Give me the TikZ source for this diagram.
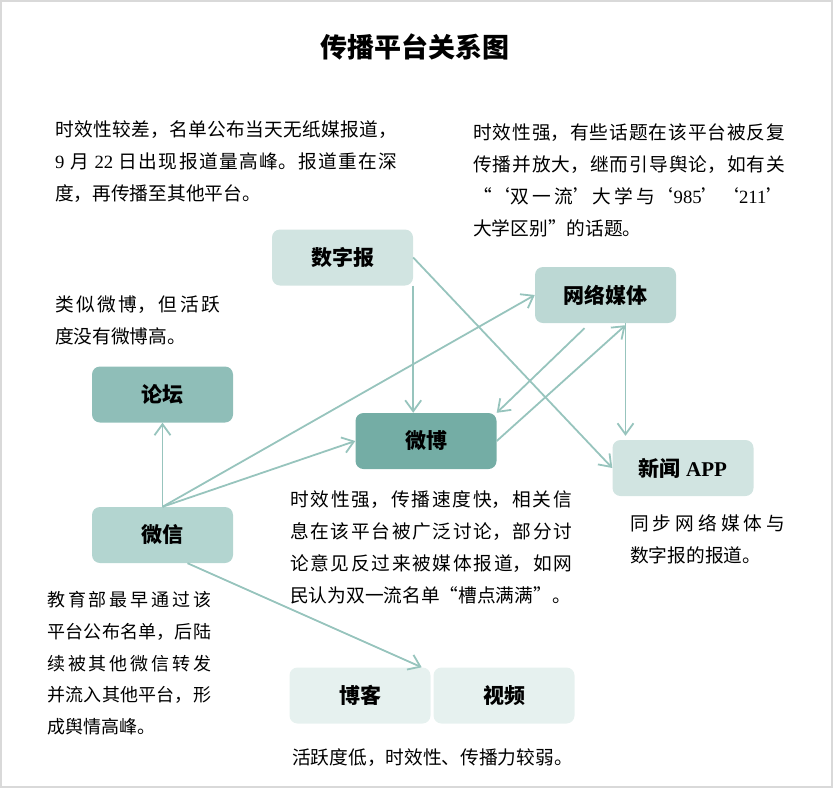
\documentclass[tikz,border=0pt]{standalone}
\usepackage{fontspec}
\setmainfont{Noto Sans CJK SC}
\newfontfamily\latin{Liberation Serif}
\XeTeXlinebreaklocale "zh"
\XeTeXlinebreakskip=0pt plus 2pt
\usetikzlibrary{arrows.meta}
\definecolor{framec}{HTML}{D9D9D9}
\definecolor{linkc}{HTML}{97C4BD}
\definecolor{paperc}{HTML}{D1E4E1}
\definecolor{webc}{HTML}{BCD8D4}
\definecolor{weiboc}{HTML}{74ADA5}
\definecolor{forumc}{HTML}{8FBEB8}
\definecolor{wechatc}{HTML}{B3D5D0}
\definecolor{blogc}{HTML}{E6F1EF}

\begin{document}
\begin{tikzpicture}[x=1pt, y=-1pt, every node/.style={inner sep=0pt}]
			\tikzstyle{platform}=[rounded corners=8pt,minimum width=141pt,minimum height=56pt,font=\bfseries\fontsize{21}{25}\selectfont]
			\tikzstyle{note}=[anchor=north west,align=justify,font=\fontsize{18.7}{31.8}\selectfont]
			\tikzstyle{link}=[-{Straight Barb[length=11pt,width=16pt]},draw=linkc,line width=1.8pt]
			\useasboundingbox (0,0) rectangle (833,788);
			\draw[framec,line width=2pt] (1,1) rectangle (832,787);
			\node[font=\bfseries\fontsize{27}{30}\selectfont](title) at (415,47){传播平台关系图};
			% platforms
			\node[platform,fill=paperc](paper) at (342.5,257.5){数字报};
			\node[platform,fill=webc](web) at (605.5,295){网络媒体};
			\node[platform,fill=weiboc](weibo) at (426,441){微博};
			\node[platform,fill=paperc](news) at (683,468){新闻{\latin\ APP}};
			\node[platform,fill=forumc](forum) at (162.5,394.5){论坛};
			\node[platform,fill=wechatc](wechat) at (162.5,535){微信};
			\node[platform,fill=blogc](blog) at (360,695.5){博客};
			\node[platform,fill=blogc](video) at (504,695.5){视频};
			% notes
			\node[note,text width=342pt](paperNote) at (55,120.6){时效性较差，名单公布当天无纸媒报道，\linebreak
				{\latin 9} 月 {\latin 22} 日出现报道量高峰。报道重在深\linebreak
				度，再传播至其他平台。};
			\node[note,text width=312pt](webNote) at (473,123.6){时效性强，有些话题在该平台被反复\linebreak
				传播并放大，继而引导舆论，如有关\linebreak
				“‘双一流’大学与‘{\latin 985}’‘{\latin 211}’\linebreak
				大学区别”的话题。};
			\node[note,text width=165pt](forumNote) at (55,295.6){类似微博，但活跃\linebreak
				度没有微博高。};
			\node[note,text width=282pt](weiboNote) at (290,490.6){时效性强，传播速度快，相关信\linebreak
				息在该平台被广泛讨论，部分讨\linebreak
				论意见反过来被媒体报道，如网\linebreak
				民认为双一流名单“槽点满满”。};
			\node[note,text width=155pt](newsNote) at (630,514.6){同步网络媒体与\linebreak
				数字报的报道。};
			\node[note,text width=164pt,font=\fontsize{18}{31.8}\selectfont](wechatNote) at (47,591){教育部最早通过该\linebreak
				平台公布名单，后陆\linebreak
				续被其他微信转发\linebreak
				并流入其他平台，形\linebreak
				成舆情高峰。};
			\node[anchor=west,font=\fontsize{18.7}{22}\selectfont](blogNote) at (292,758){活跃度低，时效性、传播力较弱。};
			% links
			\draw[link] (paper.south east) -- (paper.south east |- weibo.north);
			\draw[link] (paper.east) -- (news.west);
			\draw[link] ([xshift=-21pt,yshift=-5pt]web.south) -- (weibo.north east);
			\draw[link] (weibo.east) -- ([xshift=20pt,yshift=-2pt]web.south);
			\draw[link] ([xshift=20pt]web.south) -- ([xshift=20pt,yshift=4pt]web.south |- news.north);
			\draw[link] (wechat.north) -- (web.west);
			\draw[link] (wechat.north) -- (weibo.west);
			\draw[link] (wechat.north) -- (forum.south);
			\draw[link] ([xshift=25pt]wechat.south) -- ([xshift=-9pt]blog.north east);
\end{tikzpicture}
\end{document}
